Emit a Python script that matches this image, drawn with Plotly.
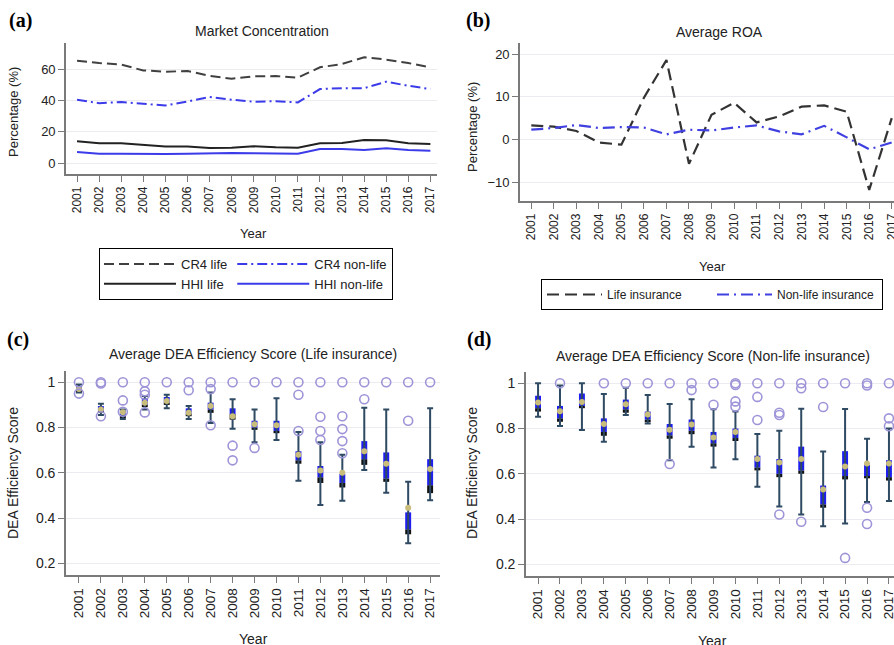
import plotly.graph_objects as go

years = list(range(2001, 2018))

# (a) Market concentration (%)
cr4_life = [65.3, 63.8, 62.8, 59.1, 58.3, 58.7, 55.7, 53.8, 55.3, 55.5, 54.5, 61.1, 63.2, 67.5, 66.0, 63.8, 61.1]
cr4_nonlife = [40.4, 38.2, 38.9, 37.6, 36.7, 39.3, 42.1, 40.4, 39.1, 39.5, 38.7, 47.2, 47.8, 47.8, 51.9, 49.3, 47.2]
hhi_life = [13.9, 12.6, 12.6, 11.5, 10.5, 10.5, 9.6, 9.8, 10.7, 10.0, 9.8, 12.6, 12.8, 14.7, 14.5, 12.6, 12.2]
hhi_nonlife = [7.0, 6.0, 6.0, 5.8, 5.8, 6.0, 6.4, 6.4, 6.2, 6.2, 6.0, 9.0, 9.0, 8.3, 9.4, 8.3, 7.9]

# (b) Average ROA (%)
roa_life = [3.3, 3.0, 2.0, -0.7, -1.2, 9.8, 18.6, -5.7, 5.8, 8.6, 4.0, 5.4, 7.7, 8.0, 6.5, -11.8, 5.0]
roa_nonlife = [2.3, 2.7, 3.4, 2.7, 2.9, 2.8, 1.2, 2.3, 2.1, 2.8, 3.3, 1.9, 1.2, 3.2, 0.5, -2.3, -0.7]

# (c) DEA efficiency, life insurance
life_q1 = [0.960, 0.865, 0.845, 0.890, 0.900, 0.850, 0.865, 0.835, 0.790, 0.775, 0.640, 0.555, 0.535, 0.635, 0.560, 0.328, 0.510]
life_med = [0.965, 0.870, 0.850, 0.900, 0.910, 0.860, 0.880, 0.860, 0.800, 0.785, 0.655, 0.580, 0.555, 0.660, 0.575, 0.350, 0.545]
life_q3 = [0.985, 0.895, 0.875, 0.930, 0.935, 0.885, 0.910, 0.885, 0.830, 0.830, 0.695, 0.630, 0.595, 0.740, 0.690, 0.425, 0.660]
life_lo = [0.955, 0.855, 0.838, 0.880, 0.885, 0.838, 0.820, 0.795, 0.735, 0.745, 0.565, 0.457, 0.476, 0.612, 0.512, 0.288, 0.478]
life_hi = [0.990, 0.905, 0.880, 0.940, 0.945, 0.895, 0.955, 0.925, 0.880, 0.930, 0.780, 0.735, 0.680, 0.888, 0.880, 0.560, 0.885]
life_mean = [0.970, 0.880, 0.868, 0.910, 0.917, 0.865, 0.895, 0.850, 0.815, 0.810, 0.680, 0.610, 0.600, 0.695, 0.640, 0.445, 0.617]
life_out = [[1.0, 0.95], [1.0, 0.995, 0.85], [1.0, 0.92, 0.87], [1.0, 0.96, 0.945, 0.867],
            [1.0], [1.0, 0.965], [1.0, 0.97, 0.81], [1.0, 0.72, 0.655], [1.0, 0.71], [1.0],
            [1.0, 0.945, 0.785], [1.0, 0.848, 0.785, 0.745], [1.0, 0.85, 0.793, 0.74, 0.686],
            [1.0, 0.925], [1.0], [1.0, 0.83], [1.0]]

# (d) DEA efficiency, non-life insurance
non_q1 = [0.875, 0.830, 0.890, 0.768, 0.870, 0.828, 0.755, 0.775, 0.720, 0.745, 0.615, 0.585, 0.600, 0.450, 0.575, 0.580, 0.570]
non_med = [0.890, 0.845, 0.900, 0.785, 0.885, 0.840, 0.770, 0.790, 0.735, 0.758, 0.628, 0.600, 0.615, 0.465, 0.590, 0.590, 0.585]
non_q3 = [0.945, 0.900, 0.955, 0.845, 0.928, 0.875, 0.820, 0.840, 0.785, 0.800, 0.680, 0.665, 0.720, 0.548, 0.700, 0.640, 0.660]
non_lo = [0.852, 0.811, 0.793, 0.742, 0.860, 0.822, 0.660, 0.720, 0.628, 0.664, 0.543, 0.455, 0.420, 0.368, 0.380, 0.475, 0.480]
non_hi = [1.000, 0.990, 1.000, 0.953, 0.980, 0.948, 0.908, 0.930, 0.885, 0.875, 0.776, 0.790, 0.888, 0.698, 0.886, 0.755, 0.800]
non_mean = [0.915, 0.877, 0.917, 0.820, 0.907, 0.862, 0.795, 0.818, 0.760, 0.785, 0.665, 0.650, 0.665, 0.530, 0.632, 0.645, 0.645]
non_out = [[], [1.0], [], [1.0], [1.0], [1.0], [1.0, 0.643], [1.0, 0.97], [1.0, 0.905],
           [1.0, 0.993, 0.92, 0.897], [1.0, 0.94, 0.838], [1.0, 0.87, 0.86, 0.42],
           [1.0, 0.978, 0.388], [1.0, 0.895], [1.0, 0.228], [1.0, 0.99, 0.45, 0.378],
           [1.0, 0.845, 0.81]]

FONT = "Liberation Sans, Arial, Helvetica, sans-serif"
SERIF = "Liberation Serif, Times New Roman, serif"
TXT = "#222222"
BLUE = "#3b3bea"
W, H = 894, 645

fig = go.Figure()

# ---- panel (a)
fig.add_trace(go.Scatter(x=years, y=cr4_life, name="CR4 life", mode="lines",
                         line=dict(color="#404040", width=2, dash="10px,5px"),
                         xaxis="x", yaxis="y", legend="legend", legendgroup="life"))
fig.add_trace(go.Scatter(x=years, y=hhi_life, name="HHI life", mode="lines",
                         line=dict(color="#222222", width=2),
                         xaxis="x", yaxis="y", legend="legend", legendgroup="life"))
fig.add_trace(go.Scatter(x=years, y=cr4_nonlife, name="CR4 non-life", mode="lines",
                         line=dict(color=BLUE, width=2, dash="10px,4px,2px,4px"),
                         xaxis="x", yaxis="y", legend="legend", legendgroup="non"))
fig.add_trace(go.Scatter(x=years, y=hhi_nonlife, name="HHI non-life", mode="lines",
                         line=dict(color=BLUE, width=2),
                         xaxis="x", yaxis="y", legend="legend", legendgroup="non"))

# ---- panel (b)
fig.add_trace(go.Scatter(x=years, y=roa_life, name="Life insurance", mode="lines",
                         line=dict(color="#333333", width=2.2, dash="12px,6px"),
                         xaxis="x2", yaxis="y2", legend="legend2"))
fig.add_trace(go.Scatter(x=years, y=roa_nonlife, name="Non-life insurance", mode="lines",
                         line=dict(color="#4040e0", width=2.2, dash="12px,5px,2px,5px"),
                         xaxis="x2", yaxis="y2", legend="legend2"))


def add_boxes(xa, ya, q1, med, q3, lo, hi, mean, out):
    fig.add_trace(go.Scatter(
        x=years, y=med, mode="markers", marker=dict(size=1, color="rgba(0,0,0,0)"),
        error_y=dict(type="data", symmetric=False,
                     array=[h - m for h, m in zip(hi, med)],
                     arrayminus=[m - l for m, l in zip(med, lo)],
                     color="#2f4a63", thickness=2, width=3),
        xaxis=xa, yaxis=ya, showlegend=False, hoverinfo="skip"))
    fig.add_trace(go.Bar(x=years, y=[m - a for m, a in zip(med, q1)], base=q1, width=0.27,
                         marker=dict(color="#111111", line=dict(width=0)),
                         xaxis=xa, yaxis=ya, showlegend=False))
    fig.add_trace(go.Bar(x=years, y=[b - m for b, m in zip(q3, med)], base=med, width=0.27,
                         marker=dict(color="#1e1ef0", line=dict(width=0)),
                         xaxis=xa, yaxis=ya, showlegend=False))
    fig.add_trace(go.Scatter(x=years, y=mean, mode="markers",
                             marker=dict(color="#c9bd7c", size=6),
                             xaxis=xa, yaxis=ya, showlegend=False))
    ox, oy = [], []
    for yr, vals in zip(years, out):
        for v in vals:
            ox.append(yr)
            oy.append(v)
    fig.add_trace(go.Scatter(x=ox, y=oy, mode="markers",
                             marker=dict(symbol="circle-open", size=9, color="#9d95d8",
                                         line=dict(width=1.6)),
                             xaxis=xa, yaxis=ya, showlegend=False))


add_boxes("x3", "y3", life_q1, life_med, life_q3, life_lo, life_hi, life_mean, life_out)
add_boxes("x4", "y4", non_q1, non_med, non_q3, non_lo, non_hi, non_mean, non_out)


def px_x(p):
    return p / W


def px_y(p):
    return 1 - p / H


axis_common = dict(showline=True, linecolor="#7a7a7a", linewidth=1.6, ticks="outside",
                   tickcolor="#7a7a7a", ticklen=6, tickwidth=1.3, zeroline=False,
                   automargin=False)
xcommon = dict(axis_common, tickvals=years, tickangle=-90, showgrid=False,
               ticklabeloverflow="allow",
               tickfont=dict(size=12, color=TXT, family=FONT))
ycommon = dict(axis_common, showgrid=True, gridcolor="#ececf0", gridwidth=1,
               tickfont=dict(size=13, color=TXT, family=FONT))

fig.update_layout(
    width=W, height=H, margin=dict(l=0, r=0, t=0, b=0, pad=0, autoexpand=False),
    paper_bgcolor="white", plot_bgcolor="white", barmode="overlay",
    font=dict(family=FONT, color=TXT),
    xaxis=dict(xcommon, domain=[px_x(66), px_x(437)], range=[2000.5, 2017.3], anchor="y"),
    yaxis=dict(ycommon, domain=[px_y(174), px_y(43)], range=[-7, 76.6],
               tickvals=[0, 20, 40, 60], anchor="x"),
    xaxis2=dict(xcommon, domain=[px_x(520), 1.0], range=[2000.5, 2017.1], anchor="y2"),
    yaxis2=dict(ycommon, domain=[px_y(201), px_y(43)], range=[-14.4, 22.6],
                tickvals=[-10, 0, 10, 20], anchor="x2"),
    xaxis3=dict(xcommon, domain=[px_x(66), px_x(440)], range=[2000.41, 2017.45], anchor="y3",
                tickfont=dict(size=13.5, color=TXT, family=FONT)),
    yaxis3=dict(ycommon, domain=[px_y(575), px_y(371)], range=[0.148, 1.05],
                tickvals=[0.2, 0.4, 0.6, 0.8, 1], anchor="x3",
                tickfont=dict(size=14, color=TXT, family=FONT)),
    xaxis4=dict(xcommon, domain=[px_x(526), 1.0], range=[2000.45, 2017.23], anchor="y4",
                tickfont=dict(size=13.5, color=TXT, family=FONT)),
    yaxis4=dict(ycommon, domain=[px_y(576), px_y(372)], range=[0.148, 1.05],
                tickvals=[0.2, 0.4, 0.6, 0.8, 1], anchor="x4",
                tickfont=dict(size=14, color=TXT, family=FONT)),
    legend=dict(orientation="h", x=px_x(99), y=px_y(248), xanchor="left", yanchor="top",
                bordercolor="black", borderwidth=1, traceorder="grouped",
                itemwidth=72, tracegroupgap=20,
                font=dict(size=13, color=TXT, family=FONT), bgcolor="white"),
    legend2=dict(orientation="h", x=px_x(541), y=px_y(279), xanchor="left", yanchor="top",
                 bordercolor="black", borderwidth=1, itemwidth=55, entrywidth=100,
                 font=dict(size=12, color=TXT, family=FONT), bgcolor="white"),
)

annots = [
    # panel labels
    dict(text="<b>(a)</b>", x=px_x(7), y=px_y(20), xanchor="left", font=dict(family=SERIF, size=20, color="black")),
    dict(text="<b>(b)</b>", x=px_x(464), y=px_y(20), xanchor="left", font=dict(family=SERIF, size=20, color="black")),
    dict(text="<b>(c)</b>", x=px_x(5), y=px_y(339), xanchor="left", font=dict(family=SERIF, size=20, color="black")),
    dict(text="<b>(d)</b>", x=px_x(465), y=px_y(339), xanchor="left", font=dict(family=SERIF, size=20, color="black")),
    # titles
    dict(text="Market Concentration", x=px_x(262), y=px_y(31), font=dict(size=14)),
    dict(text="Average ROA", x=px_x(719), y=px_y(32), font=dict(size=14)),
    dict(text="Average DEA Efficiency Score (Life insurance)", x=px_x(253), y=px_y(354), font=dict(size=14)),
    dict(text="Average DEA Efficiency Score (Non-life insurance)", x=px_x(713), y=px_y(356), font=dict(size=14)),
    # axis titles
    dict(text="Year", x=px_x(253), y=px_y(233), font=dict(size=13)),
    dict(text="Year", x=px_x(712), y=px_y(266), font=dict(size=13)),
    dict(text="Year", x=px_x(253), y=px_y(639), font=dict(size=14)),
    dict(text="Year", x=px_x(712), y=px_y(641), font=dict(size=14)),
    dict(text="Percentage (%)", x=px_x(13), y=px_y(112), textangle=-90, font=dict(size=13)),
    dict(text="Percentage (%)", x=px_x(472), y=px_y(127), textangle=-90, font=dict(size=13)),
    dict(text="DEA Efficiency Score", x=px_x(13), y=px_y(473), textangle=-90, font=dict(size=14)),
    dict(text="DEA Efficiency Score", x=px_x(472), y=px_y(473), textangle=-90, font=dict(size=14)),
]
for a in annots:
    a.setdefault("xref", "paper")
    a.setdefault("yref", "paper")
    a.setdefault("xanchor", "center")
    a.setdefault("yanchor", "middle")
    a.setdefault("showarrow", False)
    a["font"].setdefault("family", FONT)
    a["font"].setdefault("color", TXT)
    fig.add_annotation(**a)

fig.write_html("out.html", config={"displayModeBar": False},
               post_script="document.body.style.margin='0px';document.body.style.overflow='hidden';")
